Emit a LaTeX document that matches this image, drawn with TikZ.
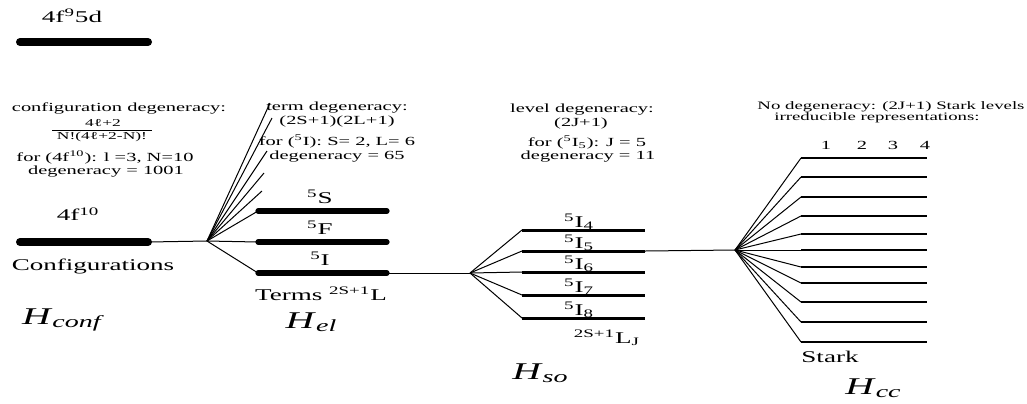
\documentclass[tikz,border=0pt]{standalone}
\usepackage{fontspec}
\setmainfont{Liberation Serif}[FakeStretch=1.65]
\usepackage{tikz}
\usetikzlibrary{positioning}

\newcommand\hamil[2]{\textit{#1}\raisebox{-1.5pt}{\fontsize{8.5}{8.5}\selectfont\textit{#2}}}

\tikzset{
  confbar/.style={line width=4pt, line cap=round},
  termbar/.style={line width=2.6pt, line cap=round},
  levbar/.style={line width=1.5pt},
  starkline/.style={line width=0.6pt},
  fanline/.style={line width=0.5pt},
  lbl/.style={inner sep=0pt, font=\fontsize{6.2}{6.2}\selectfont},
  smalllbl/.style={inner sep=0pt, font=\fontsize{5.7}{5.7}\selectfont},
  fraclbl/.style={inner sep=0pt, font=\fontsize{5.3}{5.3}\selectfont},
  biglbl/.style={inner sep=0pt, font=\fontsize{8.2}{8.2}\selectfont},
  hamlbl/.style={inner sep=0pt, font=\fontsize{12}{12}\selectfont},
}

\begin{document}
\begin{tikzpicture}[x=0.5pt, y=-0.5pt]
  \useasboundingbox (0,0) rectangle (1027,403);

  % configurations
  \coordinate (c95-l) at (20,42);
  \coordinate (c95-r) at (148,42);
  \draw[confbar] (c95-l) -- (c95-r);
  \node[biglbl] (c95) at (72,16) {4f\textsuperscript{9}5d};

  \coordinate (c10-l) at (20,242);
  \coordinate (c10-r) at (148,242);
  \coordinate (c10-fan) at (207,241);
  \draw[confbar] (c10-l) -- (c10-r);
  \draw[fanline] (c10-r) -- (c10-fan);
  \node[biglbl] (c10) at (78,214) {4f\textsuperscript{10}};
  \node[biglbl] (confs) at (93,266) {Configurations};
  \node[hamlbl] (hconf) at (63,320) {\hamil{H}{conf}};

  \node[lbl] (confdeg) at (119,108) {configuration degeneracy:};
  \node[fraclbl] (confnum) at (103,123) {4ℓ+2};
  \node[fraclbl] (confden) at (102,137) {N!(4ℓ+2-N)!};
  \coordinate (frac-l) at (52,130);
  \coordinate (frac-r) at (152,130);
  \draw[line width=0.4pt] (frac-l) -- (frac-r);
  \node[lbl] (conffor) at (105,157) {for (4f\textsuperscript{10}): l =3, N=10};
  \node[lbl] (confval) at (106,172) {degeneracy = 1001};

  % terms
  \foreach \x/\y [count=\i] in {270/103, 272/118, 267/151, 264/173, 262/191} {
    \coordinate (up\i) at (\x,\y);
    \draw[fanline] (c10-fan) -- (up\i);
  }
  \foreach \t/\y in {S/211, F/242, I/273} {
    \coordinate (t\t-l) at (258,\y);
    \coordinate (t\t-r) at (387,\y);
    \draw[fanline] (c10-fan) -- (t\t-l);
    \draw[termbar] (t\t-l) -- (t\t-r);
    \node[biglbl] (t\t) at (320,\y-14) {\textsuperscript{5}\t};
  }
  \node[biglbl] (terms) at (321,294) {Terms \textsuperscript{2S+1}L};
  \node[hamlbl] (hel) at (311,322) {\hamil{H}{el}};

  \node[lbl] (termdeg) at (337,108) {term degeneracy:};
  \node[lbl] (termfrm) at (337,122) {(2S+1)(2L+1)};
  \node[lbl] (termfor) at (337,141) {for (\textsuperscript{5}I): S= 2, L= 6};
  \node[lbl] (termval) at (337,157) {degeneracy = 65};

  % spin-orbit levels
  \coordinate (so-fan) at (470,273);
  \draw[fanline] (tI-r) -- (so-fan);
  \foreach \j/\y in {4/230, 5/251, 6/272, 7/295, 8/318} {
    \coordinate (l\j-l) at (522,\y);
    \coordinate (l\j-r) at (645,\y);
    \draw[fanline] (so-fan) -- (l\j-l);
    \draw[levbar] (l\j-l) -- (l\j-r);
    \node[biglbl] (l\j) at (579,\y-8) {\textsuperscript{5}I\textsubscript{\j}};
  }
  \node[biglbl] (levels) at (607,338) {\textsuperscript{2S+1}L\textsubscript{J}};
  \node[hamlbl] (hso) at (540,373) {\hamil{H}{so}};

  \node[lbl] (levdeg) at (582,110) {level degeneracy:};
  \node[lbl] (levfrm) at (581,124) {(2J+1)};
  \node[lbl] (levfor) at (587,142) {for (\textsuperscript{5}I\textsubscript{5}): J = 5};
  \node[lbl] (levval) at (588,157) {degeneracy = 11};

  % crystal field (Stark) levels
  \coordinate (cc-fan) at (735,250);
  \draw[fanline] (l5-r) -- (cc-fan);
  \foreach \y [count=\k] in {158, 177, 197, 216, 234, 250, 267, 283, 302, 322, 342} {
    \coordinate (s\k-l) at (801,\y);
    \coordinate (s\k-r) at (927,\y);
    \draw[fanline] (cc-fan) -- (s\k-l);
    \draw[starkline] (s\k-l) -- (s\k-r);
  }
  \foreach \n/\x in {1/826, 2/862, 3/893, 4/925}
    \node[lbl] (irr\n) at (\x,145) {\n};
  \node[biglbl] (stark) at (830,357) {Stark};
  \node[hamlbl] (hcc) at (873,388) {\hamil{H}{cc}};

  \node[smalllbl] (ccdeg) at (891,107) {No degeneracy: (2J+1) Stark levels};
  \node[smalllbl] (ccirr) at (877,118) {irreducible representations:};
\end{tikzpicture}
\end{document}
